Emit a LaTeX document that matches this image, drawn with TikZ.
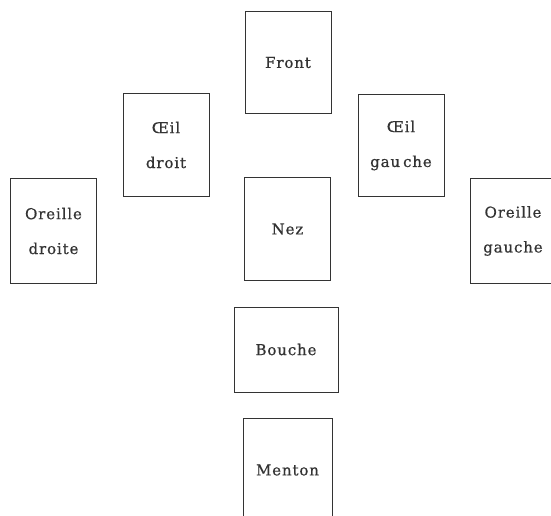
\documentclass[tikz,border=0pt]{standalone}
\usepackage{fontspec}
\newfontfamily\lblfont[LetterSpace=6,FakeBold=0.7]{DejaVu Serif}
\begin{document}
\begin{tikzpicture}[x=1bp,y=-1bp,
  part/.style={draw=black!80, line width=1bp, inner sep=0pt, align=center,
    text=black!80, font=\lblfont\fontsize{15}{35}\selectfont},
  wd/.style={part, minimum width=86bp, minimum height=102bp}]
\useasboundingbox[fill=white] (0,0) rectangle (551,516);
\clip (0,0) rectangle (551,516);
\node[wd] (front) at (288,62.5) {Front};
\node[wd] (oeild) at (166,145) {Œil\\droit};
\node[wd] (oeilg) at (401,145.5) {Œil\\gau\hspace{3bp}che};
\node[wd, minimum width=85bp, minimum height=104bp] (oreilled) at (53.5,231) {Oreille\\droite};
\node[wd, minimum height=102bp] (nez) at (287.5,229) {Nez};
\node[wd, minimum width=86bp, minimum height=104bp] (oreilleg) at (513,231) {Oreille\\gauche};
\node[wd, minimum width=104bp, minimum height=85bp] (bouche) at (286,349.5) {Bouche};
\node[wd, minimum width=89bp, minimum height=104bp] (menton) at (287.5,470) {Menton};
\end{tikzpicture}
\end{document}
